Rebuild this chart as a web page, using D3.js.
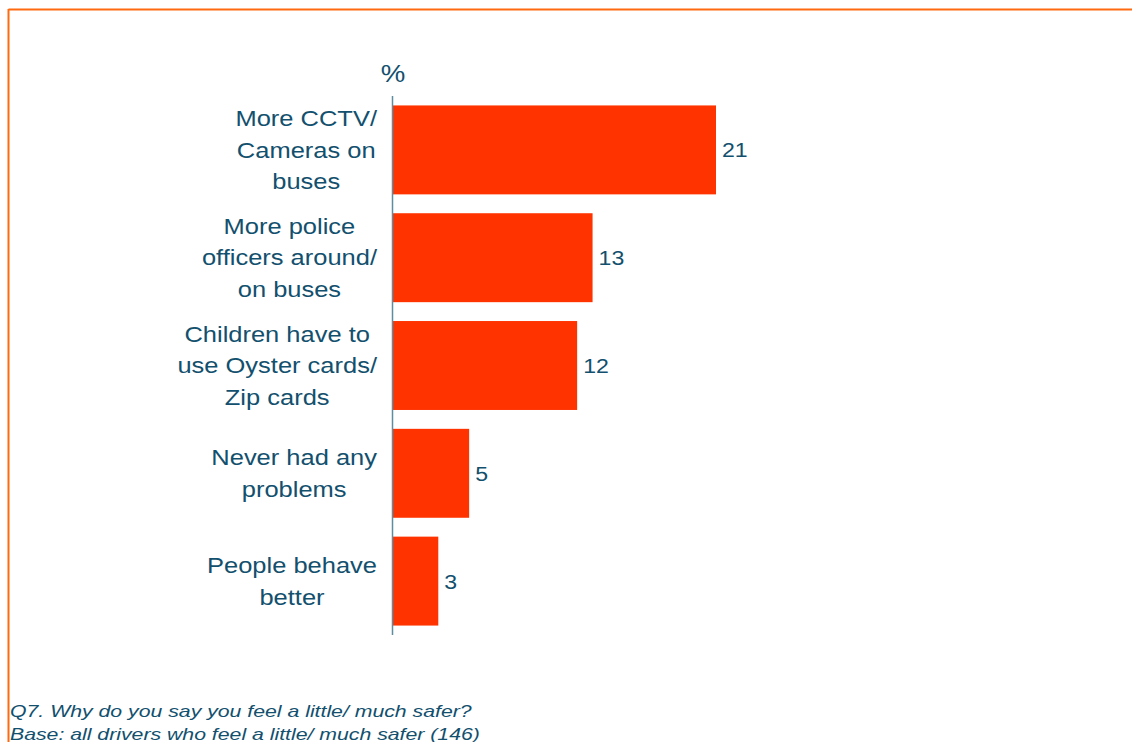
<!DOCTYPE html>
<html>
<head>
<meta charset="utf-8">
<script src="https://cdn.jsdelivr.net/npm/d3@7"></script>
<style>
  html, body { margin: 0; padding: 0; background: #fff; }
  svg { display: block; font-family: "Liberation Sans", Arial, sans-serif; }
</style>
</head>
<body>
<svg id="chart" width="1132" height="742"></svg>
<script>
// Reasons for feeling safer (% of drivers)
const categories = [
  ["More CCTV/", "Cameras on", "buses"],
  ["More police", "officers around/", "on buses"],
  ["Children have to", "use Oyster cards/", "Zip cards"],
  ["Never had any", "problems"],
  ["People behave", "better"]
];
const values = [21, 13, 12, 5, 3];
const unitLabel = "%";
const footnotes = [
  "Q7. Why do you say you feel a little/ much safer?",
  "Base: all drivers who feel a little/ much safer (146)"
];

const textColor = "#12506E";
const barColor = "#FF3300";
const frameColor = "#FF6A10";
const stretch = 1.185;   // text is set slightly wide

const svg = d3.select("#chart");

// Frame (top and left edges)
svg.append("line").attr("x1", 8.5).attr("x2", 1132).attr("y1", 9.5).attr("y2", 9.5)
  .attr("stroke", frameColor).attr("stroke-width", 2);
svg.append("line").attr("x1", 8.5).attr("x2", 8.5).attr("y1", 9).attr("y2", 742)
  .attr("stroke", frameColor).attr("stroke-width", 2);

const plotLeft = 392, plotTop = 96, plotBottom = 635;
const x = d3.scaleLinear().domain([0, 21]).range([plotLeft, 716]);
const y = d3.scaleBand().domain(d3.range(values.length)).range([plotTop, plotBottom])
  .paddingInner(0.175).paddingOuter(0.0875);

const g = svg.append("g");

g.selectAll("rect.bar").data(values).join("rect")
  .attr("class", "bar")
  .attr("x", x(0))
  .attr("y", (d, i) => y(i))
  .attr("width", d => x(d) - x(0))
  .attr("height", y.bandwidth())
  .attr("fill", barColor);

// Value axis baseline
g.append("line").attr("x1", plotLeft + 0.5).attr("x2", plotLeft + 0.5)
  .attr("y1", plotTop).attr("y2", plotBottom)
  .attr("stroke", "#5E8CA0").attr("stroke-width", 1.5);

// Value labels
g.selectAll("text.val").data(values).join("text")
  .attr("class", "val")
  .attr("transform", (d, i) =>
    `translate(${x(d) + 6},${y(i) + y.bandwidth() / 2}) scale(1.1,1)`)
  .attr("dy", "0.36em")
  .attr("fill", textColor)
  .attr("font-size", 21)
  .text(d => d);

// Category labels: lines centred inside a right-aligned block
const labelRight = 377;
const lineH = 31.5;
categories.forEach((lines, i) => {
  const cy = y(i) + y.bandwidth() / 2;
  const grp = g.append("g");
  const texts = lines.map((t, k) => grp.append("text")
    .attr("dy", "0.36em")
    .attr("fill", textColor)
    .attr("font-size", 21.5)
    .attr("text-anchor", "middle")
    .text(t));
  const widths = texts.map(t => t.node().getComputedTextLength() * stretch);
  const maxW = d3.max(widths);
  texts.forEach((t, k) => t.attr("transform",
    `translate(${labelRight - maxW / 2},${cy + (k - (lines.length - 1) / 2) * lineH}) scale(${stretch},1)`));
});

// Unit label
svg.append("text")
  .attr("transform", "translate(393,74) scale(1.2,1)")
  .attr("dy", "0.36em")
  .attr("text-anchor", "middle").attr("fill", textColor).attr("font-size", 23)
  .text(unitLabel);

// Footnotes
svg.selectAll("text.note").data(footnotes).join("text")
  .attr("class", "note")
  .attr("transform", (d, i) => `translate(10,${717 + i * 22.5}) scale(1.25,1)`)
  .attr("fill", textColor)
  .attr("font-size", 17)
  .attr("font-style", "italic")
  .text(d => d);
</script>
</body>
</html>
